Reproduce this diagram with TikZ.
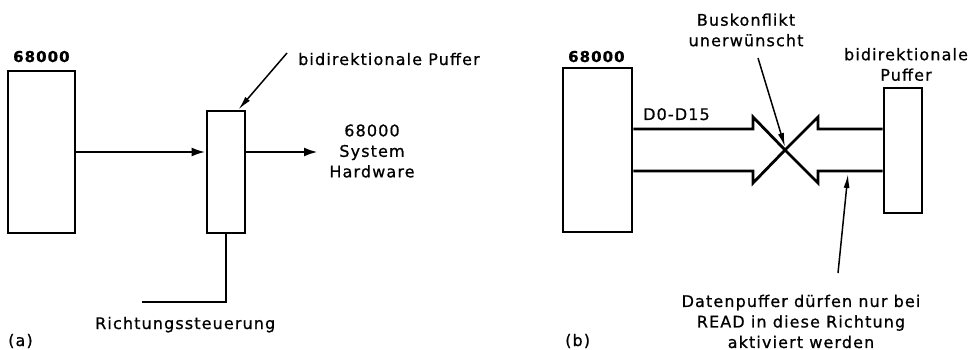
\documentclass[tikz,border=0pt]{standalone}
\usepackage{fontspec}
\setmainfont{DejaVu Sans}[LetterSpace=7, FakeBold=0.8]
\usetikzlibrary{arrows.meta}
\begin{document}
\begin{tikzpicture}[x=1pt,y=-1pt,
  box/.style={draw, line width=2.8pt, inner sep=0pt},
  lab/.style={inner sep=0pt, font=\fontsize{16}{20}\selectfont},
  blab/.style={inner sep=0pt, font=\fontsize{15}{20}\selectfont\bfseries},
  mlab/.style={inner sep=0pt, align=center, font=\fontsize{16}{20.5}\selectfont},
  sig/.style={line width=2.6pt, -{Latex[length=14pt,width=9pt]}},
  wire/.style={line width=2.6pt},
  bus/.style={line width=2.8pt, line join=miter},
  note/.style={line width=1.5pt, -{Latex[length=14pt,width=6pt]}}]
\useasboundingbox (0,0) rectangle (974,350);
% ---------- panel (a)
\node[box, minimum width=67pt, minimum height=162pt] (cpuA) at (41.5,152) {};
\node[box, minimum width=38pt, minimum height=122pt] (bufA) at (226,172) {};
\node[blab, anchor=base west] (labcpuA) at (13,62) {68000};
\node[lab, anchor=base west] (labbufA) at (298,65) {bidirektionale Puffer};
\node[mlab] (hw) at (372,151) {68000\\System\\Hardware};
\node[lab, anchor=base west] (ctlLab) at (95,329) {Richtungssteuerung};
\node[lab, anchor=base west] (tagA) at (8,346) {(a)};
\coordinate (outA) at (318,152);
\coordinate (ctlEnd) at (142,302);
\coordinate (pA) at (287,53);
\draw[sig] (cpuA.east) -- (cpuA.east -| bufA.west);
\draw[sig] (cpuA.east -| bufA.east) -- (outA);
\draw[wire] (bufA.south) |- (ctlEnd);
\draw[note] (pA) -- ([xshift=-8pt]bufA.north east);
% ---------- panel (b)
\node[box, minimum width=69pt, minimum height=164pt] (cpuB) at (597.5,150) {};
\node[box, minimum width=38pt, minimum height=125pt] (bufB) at (903,150.5) {};
\coordinate (X) at (785,150);
\draw[bus] (cpuB.east |- 0,129) -- (753,129) -- (753,117) -- (X) -- (753,183) -- (753,171) -- (cpuB.east |- 0,171);
\draw[bus] (bufB.west |- 0,129) -- (818,129) -- (818,117) -- (X) -- (818,183) -- (818,171) -- (bufB.west |- 0,171);
\node[blab, anchor=base west] (labcpuB) at (568,62) {68000};
\node[lab, anchor=base west] (dlab) at (643,120) {D0-D15};
\node[mlab] (bk) at (746,30) {Buskonflikt\\unerwünscht};
\node[mlab] (pufB) at (906,64.5) {bidirektionale\\Puffer};
\node[mlab] (dp) at (801,321.5) {Datenpuffer dürfen nur bei\\READ in diese Richtung\\aktiviert werden};
\node[lab, anchor=base west] (tagB) at (565,346) {(b)};
\coordinate (pB) at (758,58);
\coordinate (pC) at (838,273);
\draw[note] (pB) -- ([yshift=3pt]X);
\draw[note] (pC) -- (848,174);
\end{tikzpicture}
\end{document}
